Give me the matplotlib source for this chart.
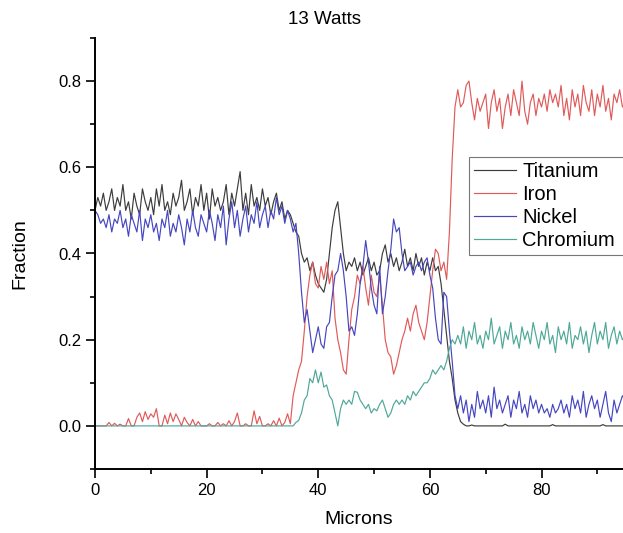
import matplotlib
matplotlib.use('Agg')
import matplotlib.pyplot as plt
import numpy as np
from matplotlib.ticker import MultipleLocator, FormatStrFormatter

matplotlib.rc('font', family=['Liberation Sans', 'DejaVu Sans'])

# line scan position, 0.5 micron steps
microns = np.arange(0, 95.01, 0.5)

titanium = [
    0.50, 0.53, 0.51, 0.54, 0.50, 0.52, 0.55, 0.50, 0.53, 0.51,
    0.56, 0.50, 0.52, 0.48, 0.54, 0.51, 0.49, 0.55, 0.52, 0.50,
    0.53, 0.49, 0.55, 0.51, 0.56, 0.50, 0.52, 0.49, 0.54, 0.51,
    0.53, 0.57, 0.50, 0.52, 0.55, 0.49, 0.53, 0.51, 0.56, 0.50,
    0.54, 0.48, 0.55, 0.51, 0.53, 0.50, 0.52, 0.56, 0.49, 0.54,
    0.51, 0.55, 0.59, 0.50, 0.54, 0.49, 0.56, 0.51, 0.53, 0.50,
    0.55, 0.51, 0.53, 0.49, 0.52, 0.54, 0.50, 0.52, 0.48, 0.50,
    0.49, 0.47, 0.45, 0.44, 0.40, 0.38, 0.39, 0.36, 0.38, 0.35,
    0.33, 0.32, 0.31, 0.34, 0.40, 0.46, 0.50, 0.52, 0.46, 0.40,
    0.36, 0.38, 0.37, 0.39, 0.36, 0.38, 0.35, 0.37, 0.39, 0.36,
    0.38, 0.35, 0.36, 0.40, 0.42, 0.38, 0.40, 0.37, 0.39, 0.36,
    0.38, 0.41, 0.37, 0.39, 0.36, 0.40, 0.37, 0.39, 0.35, 0.38,
    0.36, 0.39, 0.36, 0.37, 0.33, 0.27, 0.21, 0.15, 0.11, 0.06,
    0.03, 0.01, 0.004, 0.0, 0.0, 0.002, 0.0, 0.0, 0.0, 0.0,
    0.0, 0.0, 0.0, 0.0, 0.0, 0.0, 0.0, 0.004, 0.0, 0.0,
    0.0, 0.0, 0.0, 0.0, 0.0, 0.0, 0.0, 0.0, 0.0, 0.0,
    0.0, 0.0, 0.0, 0.0, 0.003, 0.0, 0.0, 0.0, 0.0, 0.0,
    0.0, 0.0, 0.0, 0.0, 0.0, 0.0, 0.0, 0.0, 0.0, 0.0,
    0.0, 0.0, 0.003, 0.0, 0.0, 0.0, 0.0, 0.0, 0.0, 0.0,
    0.0,
]

iron = [
    0.0, 0.0, 0.0, 0.0, 0.0, 0.008, 0.0, 0.006, 0.0, 0.004,
    0.0, 0.0, 0.017, 0.0, 0.0, 0.02, 0.03, 0.01, 0.033, 0.015,
    0.028, 0.02, 0.04, 0.0, 0.0, 0.025, 0.005, 0.03, 0.01, 0.028,
    0.015, 0.0, 0.02, 0.008, 0.0, 0.015, 0.0, 0.01, 0.0, 0.0,
    0.0, 0.005, 0.0, 0.0, 0.008, 0.0, 0.005, 0.0, 0.012, 0.0,
    0.01, 0.03, 0.0, 0.0, 0.005, 0.0, 0.0, 0.035, 0.005, 0.022,
    0.0, 0.0, 0.005, 0.0, 0.012, 0.0, 0.018, 0.0, 0.008, 0.028,
    0.005, 0.07, 0.10, 0.13, 0.15, 0.22, 0.30, 0.35, 0.38, 0.33,
    0.32, 0.37, 0.34, 0.38, 0.33, 0.36, 0.25, 0.20, 0.17, 0.13,
    0.12, 0.20, 0.27, 0.30, 0.35, 0.33, 0.37, 0.32, 0.28, 0.35,
    0.31, 0.30, 0.35, 0.28, 0.20, 0.17, 0.16, 0.12, 0.14, 0.17,
    0.20, 0.22, 0.25, 0.22, 0.26, 0.28, 0.24, 0.22, 0.20, 0.24,
    0.30, 0.36, 0.41, 0.40, 0.36, 0.38, 0.34, 0.45, 0.62, 0.74,
    0.78, 0.74, 0.75, 0.79, 0.80, 0.75, 0.71, 0.76, 0.73, 0.75,
    0.77, 0.69, 0.75, 0.78, 0.73, 0.76, 0.69, 0.74, 0.77, 0.72,
    0.78, 0.75, 0.72, 0.80, 0.73, 0.70, 0.75, 0.77, 0.72, 0.76,
    0.74, 0.77, 0.73, 0.78, 0.75, 0.77, 0.74, 0.79, 0.72, 0.76,
    0.71, 0.78, 0.74, 0.77, 0.72, 0.79, 0.75, 0.73, 0.78, 0.72,
    0.77, 0.74, 0.79, 0.73, 0.76, 0.71, 0.77, 0.75, 0.78, 0.74,
    0.75,
]

nickel = [
    0.50, 0.49, 0.47, 0.48, 0.46, 0.49, 0.45, 0.48, 0.47, 0.50,
    0.46, 0.48, 0.44, 0.49, 0.47, 0.45, 0.50, 0.43, 0.48, 0.46,
    0.49, 0.45, 0.47, 0.43, 0.48, 0.46, 0.50, 0.44, 0.47, 0.45,
    0.49, 0.46, 0.42, 0.48, 0.45, 0.50, 0.46, 0.44, 0.49, 0.47,
    0.45, 0.50, 0.47, 0.43, 0.49, 0.46, 0.51, 0.42, 0.48, 0.52,
    0.46, 0.50, 0.44, 0.48, 0.51, 0.45, 0.49, 0.47, 0.52, 0.46,
    0.49, 0.51, 0.46, 0.50, 0.48, 0.53, 0.49, 0.51, 0.47, 0.50,
    0.48, 0.45, 0.47, 0.40, 0.31, 0.24, 0.27, 0.22, 0.17, 0.20,
    0.23, 0.19, 0.18, 0.23, 0.24, 0.30, 0.35, 0.36, 0.40, 0.36,
    0.30, 0.22, 0.23, 0.21, 0.26, 0.33, 0.37, 0.43, 0.38, 0.32,
    0.28, 0.26, 0.37, 0.26, 0.30, 0.36, 0.41, 0.48, 0.45, 0.46,
    0.40, 0.36, 0.37, 0.38, 0.35, 0.37, 0.38, 0.36, 0.38, 0.39,
    0.35, 0.32, 0.25, 0.20, 0.19, 0.31, 0.30, 0.22, 0.15, 0.07,
    0.04, 0.07, 0.03, 0.06, 0.01, 0.05, 0.02, 0.08, 0.04, 0.06,
    0.03, 0.07, 0.02, 0.09, 0.04, 0.06, 0.03, 0.05, 0.07, 0.02,
    0.06, 0.04, 0.08, 0.03, 0.05, 0.02, 0.07, 0.04, 0.06, 0.03,
    0.05, 0.03, 0.04, 0.02, 0.05, 0.03, 0.04, 0.06, 0.03, 0.05,
    0.02, 0.07, 0.04, 0.06, 0.03, 0.08, 0.02, 0.05, 0.07, 0.04,
    0.06, 0.02, 0.05, 0.08, 0.03, 0.01, 0.06, 0.03, 0.05, 0.07,
    0.06,
]

chromium = [0.0] * 70 + [
    0.0, 0.0, 0.008, 0.013, 0.03, 0.06, 0.07, 0.11, 0.10, 0.13,
    0.10, 0.125, 0.09, 0.095, 0.07, 0.06, 0.03, 0.0, 0.04, 0.06,
    0.05, 0.06, 0.05, 0.08, 0.078, 0.06, 0.05, 0.04, 0.05, 0.03,
    0.04, 0.035, 0.05, 0.06, 0.04, 0.02, 0.03, 0.05, 0.06, 0.05,
    0.06, 0.05, 0.07, 0.06, 0.08, 0.07, 0.08, 0.09, 0.10, 0.10,
    0.11, 0.13, 0.12, 0.13, 0.14, 0.13, 0.15, 0.18, 0.20, 0.19,
    0.21, 0.19, 0.23, 0.18, 0.22, 0.20, 0.24, 0.19, 0.21, 0.18,
    0.22, 0.20, 0.25, 0.19, 0.21, 0.23, 0.18, 0.22, 0.20, 0.24,
    0.19, 0.21, 0.18, 0.23, 0.20, 0.22, 0.19, 0.24, 0.21, 0.18,
    0.22, 0.20, 0.24, 0.19, 0.21, 0.17, 0.23, 0.20, 0.22, 0.19,
    0.24, 0.18, 0.21, 0.20, 0.23, 0.19, 0.22, 0.17, 0.21, 0.24,
    0.19, 0.22, 0.20, 0.24, 0.18, 0.21, 0.23, 0.19, 0.22, 0.20,
    0.21,
]

elements = ['Titanium', 'Iron', 'Nickel', 'Chromium']
colors = ['#3c3c3c', '#e05a5a', '#4646c0', '#4ea898']

fig = plt.figure(figsize=(6.23, 5.33), dpi=100)
ax = fig.add_axes([95/623, 64/533, 528/623, 431/533])

for series, name, c in zip([titanium, iron, nickel, chromium], elements, colors):
    ax.plot(microns, series, color=c, lw=0.85, label=name)

ax.set_xlim(0, 94.6)
ax.set_ylim(-0.1, 0.9)
ax.xaxis.set_major_locator(MultipleLocator(20))
ax.xaxis.set_minor_locator(MultipleLocator(10))
ax.yaxis.set_major_locator(MultipleLocator(0.2))
ax.yaxis.set_minor_locator(MultipleLocator(0.1))
ax.yaxis.set_major_formatter(FormatStrFormatter('%.1f'))

for s in ['top', 'right']:
    ax.spines[s].set_visible(False)
for s in ['left', 'bottom']:
    ax.spines[s].set_linewidth(1.4)
ax.tick_params(which='major', length=6.5, width=1.2, labelsize=12, pad=3.5)
ax.tick_params(which='minor', length=3.5, width=1.2)

ax.set_xlabel('Microns', fontsize=14)
ax.xaxis.set_label_coords(0.5, -0.098)
ax.set_ylabel('Fraction', fontsize=14)
ax.yaxis.set_label_coords(-0.127, 0.5)

fig.text(324/623, 1 - 19/533, '13 Watts', fontsize=13.5, ha='center', va='center')

# frame runs past the right edge of the figure
leg = ax.legend(loc='upper left', bbox_to_anchor=(469/623, 1 - 157/533, 0.3, 0),
                bbox_transform=fig.transFigure, borderaxespad=0, mode='expand',
                fontsize=14.5, handlelength=2.1, handletextpad=0.3,
                labelspacing=0.2, borderpad=0.25, fancybox=False)
leg.get_frame().set_edgecolor('#555555')
leg.get_frame().set_linewidth(0.8)

fig.savefig('out.png', dpi=100)
